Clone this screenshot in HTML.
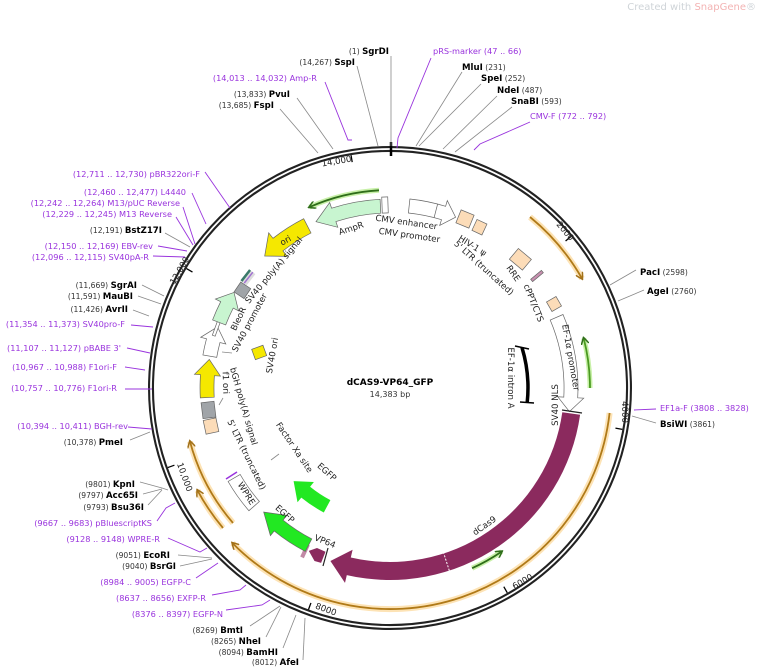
<!DOCTYPE html>
<html><head><meta charset="utf-8"><style>
html,body{margin:0;padding:0;background:#fff;}
svg{display:block;font-family:"DejaVu Sans","Liberation Sans",sans-serif;}
.p{fill:#9933dd;font-size:8.2px;}
.n{fill:#333;font-size:7.6px;}
.b{fill:#000;font-size:8.6px;font-weight:bold;}
.f{fill:#222;font-size:8.6px;}
.lg{stroke:#888;stroke-width:0.8;fill:none;}
.lp{stroke:#9933dd;stroke-width:0.9;fill:none;}
.ft{stroke:#666;stroke-width:0.7;}
</style></head><body>
<svg width="760" height="669" viewBox="0 0 760 669">
<defs>
<marker id="mo" markerWidth="8" markerHeight="8" refX="6" refY="4" orient="auto" markerUnits="userSpaceOnUse"><path d="M0,0 L7,4 L0,8" fill="none" stroke="#a0701a" stroke-width="1.5"/></marker>
<marker id="mg" markerWidth="8" markerHeight="8" refX="6" refY="4" orient="auto" markerUnits="userSpaceOnUse"><path d="M0,0 L7,4 L0,8" fill="none" stroke="#2f6e1a" stroke-width="1.5"/></marker>
</defs>
<text x="756" y="10" text-anchor="end" style="font-size:10px;fill:#cfd4d8">Created with <tspan fill="#f3b3b3">SnapGene</tspan>®</text>

<!-- ring -->
<circle cx="390" cy="388" r="239" fill="none" stroke="#222" stroke-width="6"/>
<circle cx="390" cy="388" r="239" fill="none" stroke="#fff" stroke-width="1.8"/>
<line x1="391" y1="142" x2="391" y2="156" stroke="#000" stroke-width="2.5"/>

<!-- ticks -->
<g stroke="#000" stroke-width="1.3">
<line x1="390" y1="152" x2="390" y2="159" transform="rotate(50.06 390 388)"/>
<line x1="390" y1="152" x2="390" y2="159" transform="rotate(100.1 390 388)"/>
<line x1="390" y1="152" x2="390" y2="159" transform="rotate(150.2 390 388)"/>
<line x1="390" y1="152" x2="390" y2="159" transform="rotate(200.2 390 388)"/>
<line x1="390" y1="152" x2="390" y2="159" transform="rotate(250.3 390 388)"/>
<line x1="390" y1="152" x2="390" y2="159" transform="rotate(300.4 390 388)"/>
<line x1="390" y1="152" x2="390" y2="159" transform="rotate(350.5 390 388)"/>
</g>
<g class="f">
<text x="337" y="164" text-anchor="middle" transform="rotate(-9.5 337 164)">14,000</text>
<text x="563" y="233" text-anchor="middle" transform="rotate(50 563 233)">2000</text>
<text x="622" y="412" text-anchor="middle" transform="rotate(90 622 412)">4000</text>
<text x="524" y="584" text-anchor="middle" transform="rotate(-30 524 584)">6000</text>
<text x="325" y="612" text-anchor="middle" transform="rotate(20 325 612)">8000</text>
<text x="182" y="478" text-anchor="middle" transform="rotate(70 182 478)">10,000</text>
<text x="182" y="272" text-anchor="middle" transform="rotate(-60 182 272)">12,000</text>
</g>

<!-- orange arcs -->
<g fill="none">
<path d="M530,217 A221 221 0 0 1 582,278.5" stroke="#fde3b5" stroke-width="6"/>
<path d="M609.6,413 A221 221 0 0 1 232.6,543.2" stroke="#fde3b5" stroke-width="6"/>
<path d="M233,523 A207 207 0 0 1 190,441.6" stroke="#fde3b5" stroke-width="6"/>
<path d="M223,528 A218 218 0 0 1 197.5,490.4" stroke="#fde3b5" stroke-width="6"/>
<path d="M530,217 A221 221 0 0 1 582,278.5" stroke="#b07a18" stroke-width="1.8" marker-end="url(#mo)"/>
<path d="M609.6,413 A221 221 0 0 1 232.6,543.2" stroke="#b07a18" stroke-width="1.8" marker-end="url(#mo)"/>
<path d="M233,523 A207 207 0 0 1 190,441.6" stroke="#b07a18" stroke-width="1.8" marker-end="url(#mo)"/>
<path d="M223,528 A218 218 0 0 1 197.5,490.4" stroke="#b07a18" stroke-width="1.8" marker-end="url(#mo)"/>
<!-- green arcs -->
<path d="M379,190.3 A198 198 0 0 0 309.5,207.1" stroke="#c8f0a8" stroke-width="5"/>
<path d="M590,388 A200 200 0 0 0 583.7,338.3" stroke="#c8f0a8" stroke-width="5"/>
<path d="M472.1,568.2 A198 198 0 0 0 501.6,551.6" stroke="#c8f0a8" stroke-width="5"/>
<path d="M379,190.3 A198 198 0 0 0 309.5,207.1" stroke="#2f6e1a" stroke-width="1.8" marker-end="url(#mg)"/>
<path d="M590,388 A200 200 0 0 0 583.7,338.3" stroke="#4a9a20" stroke-width="1.8" marker-end="url(#mg)"/>
<path d="M472.1,568.2 A198 198 0 0 0 501.6,551.6" stroke="#2f6e1a" stroke-width="1.8" marker-end="url(#mg)"/>
</g>

<!-- features -->
<path class="ft" fill="#c8f5d0" d="M380.1,199.3 A189,189 0 0 0 331.6,208.2 L329.7,202.5 L316,221.7 L337.8,227.3 L335.9,221.6 A175,175 0 0 1 380.8,213.2 Z"/>
<rect class="ft" x="382" y="197" width="6" height="16" fill="#fff" transform="rotate(-2 385 205)"/>
<path class="ft" fill="#fff" d="M409.9,199 A190 190 0 0 1 445.6,206.3 L447.3,200.6 L455.6,217.2 L439.7,225.4 L441.5,219.7 A176 176 0 0 0 408.4,213 Z"/>
<line class="ft" x1="437.6" y1="204.1" x2="434.1" y2="217.6" stroke="#666"/>
<rect class="ft" x="458" y="212" width="14" height="14" fill="#fcdcb8" transform="rotate(22 465 219)"/>
<rect class="ft" x="474" y="221" width="11" height="12" fill="#fcdcb8" transform="rotate(25 479 227)"/>
<rect class="ft" x="512" y="252" width="17" height="14" fill="#fcdcb8" transform="rotate(40 520 259)"/>
<rect class="ft" x="530" y="274.5" width="14" height="3" fill="#c890b0" transform="rotate(-40 537 276)"/>
<rect class="ft" x="548.5" y="298.5" width="11" height="11" fill="#fcdcb8" transform="rotate(60 554 304)"/>
<path class="ft" fill="#fff" d="M563,314.5 A188 188 0 0 1 577.7,397.8 L583.7,398.2 L569.4,411.6 L557.8,396.8 L563.8,397.1 A174 174 0 0 0 550.2,320 Z"/>
<path fill="#8b2a5e" d="M580.1,414.7 A192 192 0 0 1 346.8,575.1 L345,582.9 L330.4,561 L352.6,549.8 L350.8,557.5 A174 174 0 0 0 562.3,412.2 Z"/>
<line x1="562" y1="410" x2="582" y2="413" stroke="#222" stroke-width="1.2"/>
<line x1="449.3" y1="570.6" x2="443.8" y2="553.5" stroke="#fff" stroke-width="1" stroke-dasharray="2,1.5"/>
<polygon fill="#8b2a5e" points="325.5,551.8 321.1,562.9 314.5,561 308.8,550.9 317,548"/>
<line x1="328" y1="548" x2="323" y2="566" stroke="#222" stroke-width="1.2"/>
<rect x="303" y="544" width="4" height="14" fill="#c28aa6" transform="rotate(25 305 551)"/>
<path class="ft" fill="#22e822" stroke="#2a2" d="M305.3,551.4 A184 184 0 0 1 274.2,531 L270.4,535.6 L263.7,512.1 L286.8,515.4 L283,520.1 A170 170 0 0 0 311.8,538.9 Z"/>
<path fill="#22e822" d="M323.8,512.5 A141 141 0 0 1 301.3,497.6 L297.5,502.2 L293.6,481.1 L313.9,482 L310.1,486.7 A127 127 0 0 0 330.4,500.1 Z"/>
<line x1="271" y1="460" x2="279" y2="454" stroke="#888" stroke-width="0.8"/>
<path class="ft" fill="#fff" stroke="#666" d="M248.9,510.7 A187 187 0 0 1 228.1,481.5 L240.2,474.5 A173 173 0 0 0 259.4,501.5 Z"/>
<line x1="226" y1="479" x2="237" y2="472" stroke="#9933dd" stroke-width="1.5"/>
<rect class="ft" x="204.5" y="419" width="13" height="14" fill="#fcdcb8" transform="rotate(-12 211 426)"/>
<rect class="ft" x="202" y="402" width="13" height="16" fill="#a0a4a8" transform="rotate(-7 208 410)"/>
<path class="ft" fill="#f5e800" d="M200.3,397.9 A190 190 0 0 1 200.5,374.7 L194.5,374.3 L209.3,359.4 L220.4,376.1 L214.4,375.7 A176 176 0 0 0 214.2,397.2 Z"/>
<path class="ft" fill="#fff" d="M202.9,355 A190 190 0 0 1 206.5,338.8 L200.7,337.3 L217.5,326.9 L225.8,344 L220,342.5 A176 176 0 0 0 216.7,357.4 Z"/>
<rect class="ft" x="208" y="327" width="16" height="3" fill="#fff" transform="rotate(-70 216 328)"/>
<path class="ft" fill="#c8f5d0" d="M212.6,319.9 A190 190 0 0 1 220.7,301.7 L215.4,299 L234,292.4 L238.5,310.8 L233.2,308.1 A176 176 0 0 0 225.7,324.9 Z"/>
<rect class="ft" x="236.4" y="284.3" width="12" height="12" fill="#a0a4a8" transform="rotate(-56 242.4 290.3)"/>
<g transform="rotate(-52 248.2 277.2)"><rect x="241" y="273" width="14" height="8" fill="#ddd"/><rect x="241" y="273" width="14" height="2.5" fill="#3a7a6a"/><rect x="241" y="277" width="14" height="1.5" fill="#a070d0"/></g>
<path class="ft" fill="#f5e800" d="M303.7,218.7 A190 190 0 0 0 273,238.3 L268.7,232.8 L264.7,256 L287.2,256.4 L282.9,250.9 A174 174 0 0 1 311,233 Z"/>
<rect class="ft" x="253" y="347" width="12" height="11" fill="#f5e800" transform="rotate(-20 259 352)"/>
<path d="M522,347.6 A138 138 0 0 1 527.2,402.4" fill="none" stroke="#000" stroke-width="3.5"/>
<line x1="515" y1="346" x2="529" y2="349" stroke="#000" stroke-width="1.5"/>
<line x1="520" y1="402" x2="534" y2="403" stroke="#000" stroke-width="1.5"/>
<line x1="222" y1="352" x2="232" y2="353" stroke="#888" stroke-width="0.8"/>
<line x1="219" y1="405" x2="223" y2="398" stroke="#888" stroke-width="0.8"/>

<!-- inner labels -->
<g class="f">
<text x="352" y="231" text-anchor="middle" transform="rotate(-18 352 231)">AmpR</text>
<text x="406" y="225" text-anchor="middle" transform="rotate(8 406 225)">CMV enhancer</text>
<text x="409" y="238" text-anchor="middle" transform="rotate(8 409 238)">CMV promoter</text>
<text x="471" y="248" text-anchor="middle" transform="rotate(32 471 248)">HIV-1 ψ</text>
<text x="482" y="270" text-anchor="middle" transform="rotate(42 482 270)">5' LTR (truncated)</text>
<text x="511" y="275" text-anchor="middle" transform="rotate(55 511 275)">RRE</text>
<text x="531" y="304" text-anchor="middle" transform="rotate(68 531 304)">cPPT/CTS</text>
<text x="568" y="358" text-anchor="middle" transform="rotate(80 568 358)">EF-1α promoter</text>
<text x="508" y="378" text-anchor="middle" transform="rotate(90 508 378)">EF-1α intron A</text>
<text x="558" y="405" text-anchor="middle" transform="rotate(-90 558 405)">SV40 NLS</text>
<text x="486" y="528" text-anchor="middle" transform="rotate(-35 486 528)">dCas9</text>
<text x="324" y="544" text-anchor="middle" transform="rotate(22 324 544)">VP64</text>
<text x="283" y="516" text-anchor="middle" transform="rotate(42 283 516)">EGFP</text>
<text x="325" y="474" text-anchor="middle" transform="rotate(42 325 474)">EGFP</text>
<text x="292" y="449" text-anchor="middle" transform="rotate(56 292 449)">Factor Xa site</text>
<text x="244" y="495" text-anchor="middle" transform="rotate(58 244 495)">WPRE</text>
<text x="244" y="456" text-anchor="middle" transform="rotate(64 244 456)">5' LTR (truncated)</text>
<text x="241" y="407" text-anchor="middle" transform="rotate(74 241 407)">bGH poly(A) signal</text>
<text x="223" y="383" text-anchor="middle" transform="rotate(88 223 383)">f1 ori</text>
<text x="275" y="356" text-anchor="middle" transform="rotate(-80 275 356)">SV40 ori</text>
<text x="252" y="324" text-anchor="middle" transform="rotate(-62 252 324)">SV40 promoter</text>
<text x="241" y="320" text-anchor="middle" transform="rotate(-65 241 320)">BleoR</text>
<text x="276" y="272" text-anchor="middle" transform="rotate(-50 276 272)">SV40 poly(A) signal</text>
<text x="287" y="243" text-anchor="middle" transform="rotate(-30 287 243)">ori</text>
</g>
<text x="390" y="385" text-anchor="middle" style="font-size:9px;font-weight:bold;fill:#000">dCAS9-VP64_GFP</text>
<text x="390" y="397" text-anchor="middle" style="font-size:8px;fill:#333">14,383 bp</text>

<!-- connector lines -->
<g class="lg">
<line x1="391" y1="56" x2="391" y2="146"/>
<line x1="357" y1="66" x2="378" y2="146"/>
<line x1="297" y1="98" x2="333" y2="149"/>
<line x1="280" y1="109" x2="318" y2="153"/>
<line x1="462" y1="72" x2="416" y2="146"/>
<line x1="481" y1="84" x2="419" y2="146"/>
<line x1="497" y1="96" x2="443" y2="149"/>
<line x1="512" y1="107" x2="455" y2="152"/>
<line x1="636" y1="270" x2="610" y2="285"/>
<line x1="644" y1="290" x2="618" y2="301"/>
<line x1="656" y1="423" x2="632" y2="416"/>
<line x1="165" y1="233" x2="190" y2="247"/>
<line x1="142" y1="285" x2="164" y2="296"/>
<line x1="138" y1="296" x2="161" y2="304"/>
<line x1="133" y1="310" x2="149" y2="316"/>
<line x1="130" y1="440" x2="150" y2="432"/>
<polyline points="140,482 162,488 168,490"/>
<polyline points="143,494 162,489"/>
<polyline points="148,505 162,490"/>
<line x1="178" y1="555" x2="212" y2="558"/>
<line x1="180" y1="566" x2="212" y2="559"/>
<line x1="250" y1="626" x2="280" y2="606"/>
<line x1="266" y1="637" x2="281" y2="607"/>
<line x1="283" y1="648" x2="296" y2="615"/>
<line x1="303" y1="660" x2="305" y2="618"/>
</g>
<g class="lp">
<polyline points="325,82 348,140 352,140"/>
<polyline points="431,58 398,138 397,148"/>
<polyline points="530,122 480,144 474,150"/>
<line x1="656" y1="409" x2="634" y2="410"/>
<line x1="205" y1="172" x2="230" y2="208"/>
<line x1="192" y1="193" x2="206" y2="224"/>
<line x1="183" y1="207" x2="195" y2="244"/>
<line x1="176" y1="217" x2="193" y2="245"/>
<line x1="158" y1="246" x2="187" y2="251"/>
<line x1="153" y1="256" x2="185" y2="257"/>
<line x1="131" y1="325" x2="153" y2="327"/>
<line x1="127" y1="348" x2="150" y2="353"/>
<line x1="125" y1="367" x2="145" y2="370"/>
<line x1="125" y1="389" x2="152" y2="389"/>
<line x1="128" y1="427" x2="152" y2="429"/>
<polyline points="157,521 166,508 175,503"/>
<polyline points="168,538 200,552 207,548"/>
<line x1="196" y1="578" x2="218" y2="563"/>
<polyline points="212,595 240,590 246,585"/>
<polyline points="226,610 262,605 270,600"/>
</g>

<!-- labels -->
<text x="389" y="54" text-anchor="end"><tspan class="n">(1)  </tspan><tspan class="b">SgrDI</tspan></text>
<text x="355" y="65" text-anchor="end"><tspan class="n">(14,267)  </tspan><tspan class="b">SspI</tspan></text>
<text x="317" y="81" text-anchor="end" class="p">(14,013 .. 14,032)  Amp-R</text>
<text x="290" y="97" text-anchor="end"><tspan class="n">(13,833)  </tspan><tspan class="b">PvuI</tspan></text>
<text x="274" y="108" text-anchor="end"><tspan class="n">(13,685)  </tspan><tspan class="b">FspI</tspan></text>
<text x="433" y="54" class="p">pRS-marker   (47 .. 66)</text>
<text x="462" y="70"><tspan class="b">MluI</tspan><tspan class="n">  (231)</tspan></text>
<text x="481" y="81"><tspan class="b">SpeI</tspan><tspan class="n">  (252)</tspan></text>
<text x="497" y="93"><tspan class="b">NdeI</tspan><tspan class="n">  (487)</tspan></text>
<text x="511" y="104"><tspan class="b">SnaBI</tspan><tspan class="n">  (593)</tspan></text>
<text x="530" y="119" class="p">CMV-F   (772 .. 792)</text>
<text x="640" y="275"><tspan class="b">PacI</tspan><tspan class="n">  (2598)</tspan></text>
<text x="647" y="294"><tspan class="b">AgeI</tspan><tspan class="n">  (2760)</tspan></text>
<text x="660" y="411" class="p">EF1a-F   (3808 .. 3828)</text>
<text x="660" y="427"><tspan class="b">BsiWI</tspan><tspan class="n">  (3861)</tspan></text>

<text x="200" y="177" text-anchor="end" class="p">(12,711 .. 12,730)  pBR322ori-F</text>
<text x="186" y="195" text-anchor="end" class="p">(12,460 .. 12,477)  L4440</text>
<text x="180" y="206" text-anchor="end" class="p">(12,242 .. 12,264)  M13/pUC Reverse</text>
<text x="172" y="217" text-anchor="end" class="p">(12,229 .. 12,245)  M13 Reverse</text>
<text x="162" y="233" text-anchor="end"><tspan class="n">(12,191)  </tspan><tspan class="b">BstZ17I</tspan></text>
<text x="153" y="249" text-anchor="end" class="p">(12,150 .. 12,169)  EBV-rev</text>
<text x="149" y="260" text-anchor="end" class="p">(12,096 .. 12,115)  SV40pA-R</text>
<text x="137" y="288" text-anchor="end"><tspan class="n">(11,669)  </tspan><tspan class="b">SgrAI</tspan></text>
<text x="133" y="299" text-anchor="end"><tspan class="n">(11,591)  </tspan><tspan class="b">MauBI</tspan></text>
<text x="128" y="312" text-anchor="end"><tspan class="n">(11,426)  </tspan><tspan class="b">AvrII</tspan></text>
<text x="125" y="327" text-anchor="end" class="p">(11,354 .. 11,373)  SV40pro-F</text>
<text x="121" y="351" text-anchor="end" class="p">(11,107 .. 11,127)  pBABE 3'</text>
<text x="117" y="370" text-anchor="end" class="p">(10,967 .. 10,988)  F1ori-F</text>
<text x="117" y="391" text-anchor="end" class="p">(10,757 .. 10,776)  F1ori-R</text>
<text x="128" y="429" text-anchor="end" class="p">(10,394 .. 10,411)  BGH-rev</text>
<text x="123" y="445" text-anchor="end"><tspan class="n">(10,378)  </tspan><tspan class="b">PmeI</tspan></text>
<text x="135" y="487" text-anchor="end"><tspan class="n">(9801)  </tspan><tspan class="b">KpnI</tspan></text>
<text x="138" y="498" text-anchor="end"><tspan class="n">(9797)  </tspan><tspan class="b">Acc65I</tspan></text>
<text x="144" y="510" text-anchor="end"><tspan class="n">(9793)  </tspan><tspan class="b">Bsu36I</tspan></text>
<text x="152" y="526" text-anchor="end" class="p">(9667 .. 9683)  pBluescriptKS</text>
<text x="160" y="542" text-anchor="end" class="p">(9128 .. 9148)  WPRE-R</text>
<text x="170" y="558" text-anchor="end"><tspan class="n">(9051)  </tspan><tspan class="b">EcoRI</tspan></text>
<text x="176" y="569" text-anchor="end"><tspan class="n">(9040)  </tspan><tspan class="b">BsrGI</tspan></text>
<text x="191" y="585" text-anchor="end" class="p">(8984 .. 9005)  EGFP-C</text>
<text x="206" y="601" text-anchor="end" class="p">(8637 .. 8656)  EXFP-R</text>
<text x="223" y="617" text-anchor="end" class="p">(8376 .. 8397)  EGFP-N</text>
<text x="243" y="633" text-anchor="end"><tspan class="n">(8269)  </tspan><tspan class="b">BmtI</tspan></text>
<text x="261" y="644" text-anchor="end"><tspan class="n">(8265)  </tspan><tspan class="b">NheI</tspan></text>
<text x="278" y="655" text-anchor="end"><tspan class="n">(8094)  </tspan><tspan class="b">BamHI</tspan></text>
<text x="299" y="665" text-anchor="end"><tspan class="n">(8012)  </tspan><tspan class="b">AfeI</tspan></text>
</svg>
</body></html>
